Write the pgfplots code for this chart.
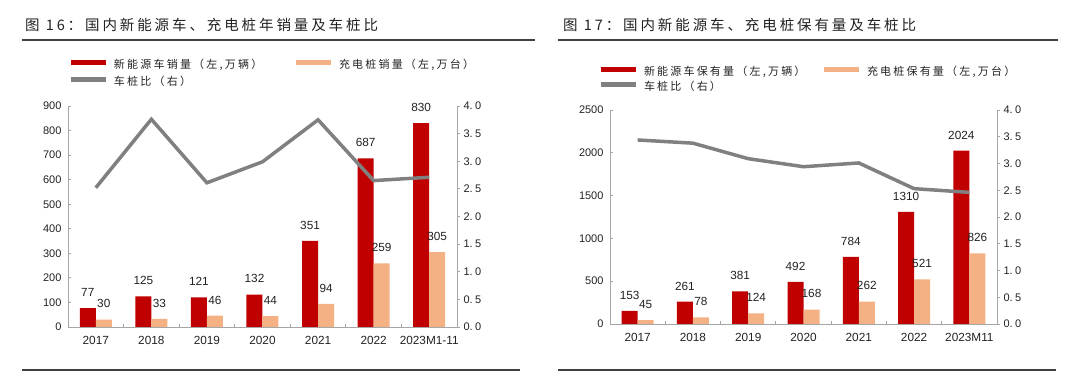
\documentclass[border=0pt]{standalone}
\usepackage{pgfplots}
\pgfplotsset{compat=1.18}
\usepackage{fontspec}
\setmainfont{Liberation Sans}
\newfontfamily\cjk[LetterSpace=20]{Noto Sans CJK SC}
\definecolor{barred}{HTML}{C00000}
\definecolor{barorange}{HTML}{F4B183}
\definecolor{linegray}{HTML}{808080}
\definecolor{axgray}{HTML}{A6A6A6}
\definecolor{txt}{HTML}{222222}

\pgfplotsset{
  panel/.style={
    scale only axis,
    ybar, bar width=16bp,
    xmin=-0.5, xmax=6.5, ymin=0,
    axis x line*=bottom, axis y line*=left,
    axis line style={axgray, line width=0.8bp},
    tick style={axgray, line width=0.8bp},
    tick align=inside,
    major tick length=3bp,
    xtick={0.5,1.5,...,5.5},
    xticklabels={},
    extra x ticks={0,1,2,3,4,5,6},
    extra x tick style={major tick length=0bp},
    ticklabel style={font=\fontsize{11bp}{13bp}\selectfont, text=txt},
    xticklabel style={yshift=-6bp, font=\fontsize{11.8bp}{13bp}\selectfont},
    yticklabel style={xshift=-3bp},
    /pgf/number format/assume math mode=true,
    /pgf/number format/1000 sep={},
    nodes near coords,
    every node near coord/.append style={font=\fontsize{11.8bp}{13bp}\selectfont, text=txt, anchor=south, yshift=8bp},
    legend columns=2,
    legend cell align=left,
    legend image code/.code={\draw[##1, line width=5bp] (0bp,3.5bp) -- (35bp,3.5bp);},
    legend style={draw=none, fill=none, inner sep=0bp, outer sep=0bp, row sep=5bp,
      font=\cjk\fontsize{11bp}{13bp}\selectfont, text=txt,
      nodes={inner sep=0bp, text height=9bp, text depth=3bp}},
  },
  ratio/.style={
    scale only axis,
    xmin=-0.5, xmax=6.5, ymin=0, ymax=4,
    axis x line=none,
    axis y line*=right,
    axis line style={axgray, line width=0.8bp},
    tick style={axgray, line width=0.8bp},
    tick align=outside,
    major tick length=3bp,
    ytick={0,0.5,...,4},
    ticklabel style={font=\fontsize{11bp}{13bp}\selectfont, text=txt},
    yticklabel style={/pgf/number format/.cd, fixed, fixed zerofill, precision=1, dec sep={.\hspace{2.5bp}}},
    /pgf/number format/assume math mode=true,
  },
}

\begin{document}
\begin{tikzpicture}
\useasboundingbox (0bp,0bp) rectangle (1080bp,382bp);
% ---------- titles and rules
\node[anchor=west, inner sep=0bp, font=\cjk\fontsize{14.5bp}{16bp}\selectfont, text=txt] at (25bp,357bp) {图 16：国内新能源车、充电桩年销量及车桩比};
\node[anchor=west, inner sep=0bp, font=\cjk\fontsize{14.5bp}{16bp}\selectfont, text=txt] at (563bp,357bp) {图 17：国内新能源车、充电桩保有量及车桩比};
\draw[line width=1.5bp, black!75] (22bp,342bp) -- (535bp,342bp);
\draw[line width=1.5bp, black!75] (558bp,342bp) -- (1058bp,342bp);
\draw[line width=1.5bp, black!75] (22bp,12bp) -- (520bp,12bp);
\draw[line width=1.5bp, black!75] (558bp,12bp) -- (1056bp,12bp);

% ---------- left panel
\begin{axis}[panel, at={(68bp,55bp)}, anchor=south west, width=389bp, height=221bp,
  ymax=900, ytick={0,100,...,900},
  extra x tick labels={2017,2018,2019,2020,2021,2022,2023M1-11},
  legend style={at={(rel axis cs:0,1)}, anchor=north west, xshift=0bp, yshift=46bp}]
\addlegendimage{barred}
\addlegendentry{\hspace{6bp}\makebox[179bp][l]{新能源车销量（左,万辆）}}
\addlegendimage{barorange}
\addlegendentry{\hspace{6bp}充电桩销量（左,万台）}
\addlegendimage{linegray}
\addlegendentry{\hspace{6bp}车桩比（右）}
\addplot[bar shift=-8bp, fill=barred, draw=none, forget plot]
  coordinates {(0,77) (1,125) (2,121) (3,132) (4,351) (5,687) (6,830)};
\addplot[bar shift=8bp, fill=barorange, draw=none, forget plot]
  coordinates {(0,30) (1,33) (2,46) (3,44) (4,94) (5,259) (6,305)};
\end{axis}
\begin{axis}[ratio, at={(68bp,55bp)}, anchor=south west, width=389bp, height=221bp]
\addplot[linegray, line width=3.5bp, mark=none]
  coordinates {(0,2.52) (1,3.76) (2,2.61) (3,2.99) (4,3.75) (5,2.65) (6,2.71)};
\end{axis}

% ---------- right panel
\begin{axis}[panel, at={(610bp,58bp)}, anchor=south west, width=387bp, height=214bp,
  ymax=2500, ytick={0,500,...,2500},
  extra x tick labels={2017,2018,2019,2020,2021,2022,2023M11},
  legend style={at={(rel axis cs:0,1)}, anchor=north west, xshift=-12bp, yshift=43bp, row sep=3bp}]
\addlegendimage{barred}
\addlegendentry{\hspace{6bp}\makebox[177bp][l]{新能源车保有量（左,万辆）}}
\addlegendimage{barorange}
\addlegendentry{\hspace{6bp}充电桩保有量（左,万台）}
\addlegendimage{linegray}
\addlegendentry{\hspace{6bp}车桩比（右）}
\addplot[bar shift=-8bp, fill=barred, draw=none, forget plot]
  coordinates {(0,153) (1,261) (2,381) (3,492) (4,784) (5,1310) (6,2024)};
\addplot[bar shift=8bp, fill=barorange, draw=none, forget plot]
  coordinates {(0,45) (1,78) (2,124) (3,168) (4,262) (5,521) (6,826)};
\end{axis}
\begin{axis}[ratio, at={(610bp,58bp)}, anchor=south west, width=387bp, height=214bp]
\addplot[linegray, line width=3.5bp, mark=none]
  coordinates {(0,3.44) (1,3.38) (2,3.09) (3,2.94) (4,3.01) (5,2.53) (6,2.46)};
\end{axis}
\end{tikzpicture}
\end{document}
